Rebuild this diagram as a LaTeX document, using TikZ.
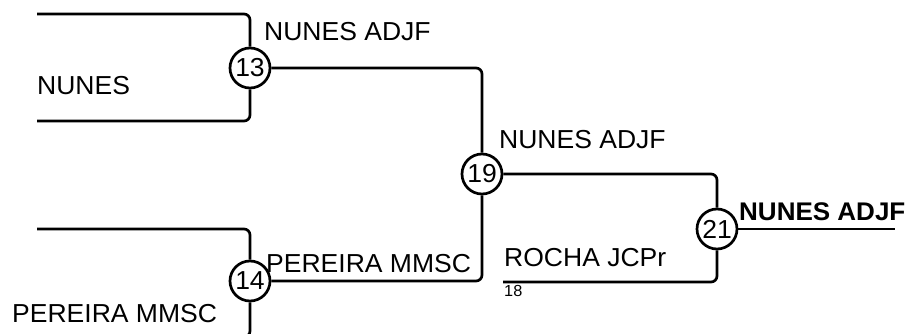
\documentclass[tikz,border=0pt]{standalone}
\usepackage{fontspec}
\setmainfont{Liberation Sans}[FakeStretch=1.02]
\tikzset{
  game/.style={circle,draw,line width=2.7pt,minimum size=40pt,inner sep=0pt,fill=white,font=\fontsize{26}{30}\selectfont},
  player/.style={anchor=base west,inner sep=0pt,font=\fontsize{26}{30}\selectfont},
  wire/.style={line width=2.7pt,rounded corners=6pt}
}
\begin{document}
\begin{tikzpicture}[x=1pt,y=-1pt]
            \useasboundingbox(0,0)rectangle(908,334);
            \node[game](n13)at(250,68){13};
            \node[game](n14)at(250,281){14};
            \node[game](n19)at(482,174){19};
            \node[game](n21)at(717,229){21};
            \coordinate(p1)at(37,14);
            \coordinate(p2)at(37,121);
            \coordinate(p3)at(37,229);
            \coordinate(p4)at(37,337);
            \coordinate(p18)at(503,282);
            \coordinate(w)at(895,229);
            \draw[wire](p1)-|(n13);
            \draw[wire](n13)|-(p2);
            \draw[wire](p3)-|(n14);
            \draw[wire](n14)|-(p4);
            \draw[wire](n13)-|(n19);
            \draw[wire](n14)-|(n19);
            \draw[wire](n19)-|(n21);
            \draw[wire](n21)|-(p18);
            \draw[wire](n21)--(w);
            \node[player]at(37,95){NUNES};
            \node[player]at(12,322){PEREIRA MMSC};
            \node[player]at(264,41){NUNES ADJF};
            \node[player]at(266,272){PEREIRA MMSC};
            \node[player]at(499,149){NUNES ADJF};
            \node[player]at(504,266){ROCHA JCPr};
            \node[player,font=\fontsize{16}{18}\selectfont]at(504,296){18};
            \node[player,font=\fontsize{25.5}{30}\selectfont\bfseries]at(739,220){NUNES ADJF};
        \end{tikzpicture}
\end{document}
